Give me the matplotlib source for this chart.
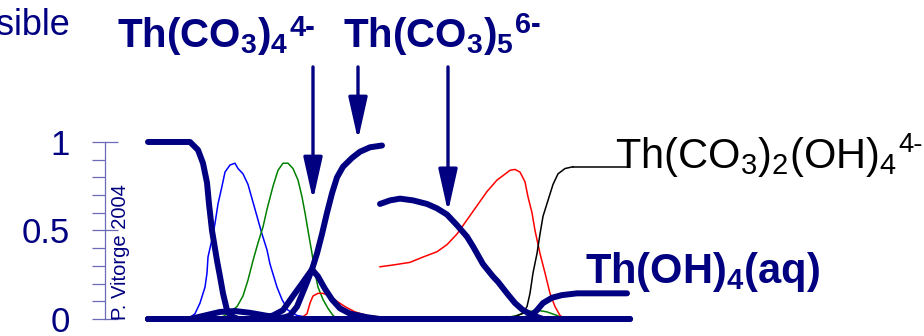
import numpy as np
import matplotlib
matplotlib.use("Agg")
import matplotlib.pyplot as plt
from matplotlib.patches import FancyArrowPatch

plt.rcParams['font.family'] = ['Liberation Sans', 'DejaVu Sans']
plt.rcParams['mathtext.fontset'] = 'custom'
plt.rcParams['mathtext.default'] = 'regular'
plt.rcParams['mathtext.rm'] = 'Liberation Sans'
plt.rcParams['mathtext.bf'] = 'Liberation Sans:bold'

NAVY = '#000080'
AXC = '#6b6bb8'

# ---- left part (carbonate complexes) ----
x_a = [0, 4.2, 5.0, 5.5, 5.9, 6.1, 6.4, 6.9, 7.2, 7.5, 7.9, 8.2, 9.0, 23.4]
y_a = [1.0, 1.0, 0.955, 0.88, 0.77, 0.65, 0.50, 0.33, 0.24, 0.145, 0.05, 0.02, 0.0, 0.0]

x_blue = [0, 4.0, 4.7, 5.2, 5.7, 5.9, 6.0, 6.4, 6.7, 7.0, 7.4, 7.7, 8.2, 8.7, 9.0, 9.5,
          10.0, 10.5, 10.9, 11.4, 11.9, 12.2, 12.9, 13.4, 14.0, 14.9, 15.9, 23.4]
y_blue = [0, 0.0, 0.03, 0.09, 0.18, 0.26, 0.35, 0.45, 0.54, 0.65, 0.75, 0.83, 0.87, 0.88, 0.85, 0.82,
          0.76, 0.66, 0.58, 0.48, 0.39, 0.31, 0.18, 0.11, 0.05, 0.02, 0.01, 0.0]

x_green = [0, 6.2, 7.4, 8.2, 8.9, 9.5, 10.0, 10.5, 11.0, 11.5, 11.9, 12.5, 13.0, 13.5, 14.0,
           14.5, 15.0, 15.4, 15.7, 16.0, 16.4, 16.7, 17.0, 17.5, 18.0, 18.5, 19.0, 23.4]
y_green = [0, 0.0, 0.01, 0.04, 0.07, 0.13, 0.22, 0.33, 0.43, 0.52, 0.62, 0.75, 0.84, 0.88, 0.88,
           0.85, 0.785, 0.69, 0.60, 0.50, 0.37, 0.26, 0.18, 0.11, 0.06, 0.02, 0.0, 0.0]

x_hump = [0, 4.2, 5.7, 7.2, 8.7, 10.2, 11.7, 13.2, 14.7, 23.4]
y_hump = [0, 0.0, 0.02, 0.04, 0.045, 0.035, 0.02, 0.005, 0.0, 0.0]

x_c4 = [0, 11.0, 12.5, 13.5, 14.5, 15.4, 16.4, 17.0, 17.7, 18.4, 19.2, 20.2, 21.9, 23.2]
y_c4 = [0, 0.0, 0.02, 0.05, 0.13, 0.20, 0.28, 0.24, 0.17, 0.11, 0.06, 0.03, 0.01, 0.0]

x_c5 = [0, 12.2, 13.7, 14.2, 14.9, 15.7, 16.4, 16.9, 17.4, 17.9, 18.4, 18.9, 19.5, 20.4, 21.2, 22.2, 23.4]
y_c5 = [0, 0.0, 0.01, 0.02, 0.07, 0.18, 0.28, 0.37, 0.48, 0.60, 0.71, 0.80, 0.86, 0.91, 0.945, 0.97, 0.98]

x_red1 = [0, 15.2, 15.9, 16.2, 16.5, 17.0, 17.5, 18.2, 18.9, 19.7, 20.7, 21.9, 23.2]
y_red1 = [0, 0.0, 0.03, 0.09, 0.13, 0.145, 0.145, 0.13, 0.10, 0.07, 0.04, 0.02, 0.01]

# ---- right part (hydroxo-carbonate) ----
x_c5b = [23.2, 24.2, 25.2, 26.5, 27.9, 28.9, 29.9, 30.9, 31.9, 32.5, 33.5, 34.5, 35.0, 35.9,
         36.7, 37.5, 38.5, 39.5, 48.2]
y_c5b = [0.65, 0.67, 0.68, 0.67, 0.65, 0.625, 0.59, 0.53, 0.465, 0.41, 0.31, 0.24, 0.21, 0.145,
         0.09, 0.05, 0.02, 0.0, 0.0]

x_red2 = [23.2, 24.5, 26.2, 27.5, 28.9, 29.9, 30.9, 31.9, 32.9, 33.9, 34.9, 35.5, 36.2, 36.7,
          37.2, 37.7, 38.0, 38.4, 38.7, 39.2, 39.7, 40.2, 40.7, 41.2, 41.7, 48.2]
y_red2 = [0.295, 0.305, 0.32, 0.35, 0.38, 0.42, 0.48, 0.56, 0.64, 0.72, 0.785, 0.81, 0.84, 0.845,
          0.83, 0.775, 0.69, 0.60, 0.50, 0.37, 0.26, 0.145, 0.07, 0.02, 0.0, 0.0]

x_black = [23.2, 34.9, 36.5, 37.4, 37.9, 38.2, 38.5, 38.9, 39.2, 39.5, 40.0, 40.5, 41.0, 41.7, 42.5]
y_black = [0, 0.0, 0.01, 0.03, 0.07, 0.145, 0.26, 0.37, 0.48, 0.58, 0.67, 0.76, 0.82, 0.85, 0.86]

x_green2 = [23.2, 35.2, 36.9, 37.9, 38.9, 39.9, 40.9, 41.7, 48.2]
y_green2 = [0, 0.0, 0.02, 0.04, 0.05, 0.04, 0.02, 0.0, 0.0]

x_oh4 = [23.2, 37.7, 38.2, 38.9, 39.5, 40.4, 41.4, 42.9, 47.9]
y_oh4 = [0, 0.0, 0.01, 0.05, 0.09, 0.12, 0.135, 0.145, 0.145]

x_zero2 = [23.2, 48.2]
y_zero2 = [0.0, 0.0]

y_ticks = [0, 0.5, 1]
y_tick_labels = ['0', '0.5', '1']

fig = plt.figure(figsize=(9.24, 3.36), dpi=100)
ax = fig.add_axes([0, 0, 1, 1])
ax.set_xlim(-14.8, 77.6)
ax.set_ylim(-0.096, 1.802)

thick = dict(color=NAVY, lw=4.3, solid_capstyle='round', solid_joinstyle='round')
thin = dict(lw=1.1, solid_joinstyle='round')

ax.plot(x_blue, y_blue, color='#0000ff', **thin)
ax.plot(x_green, y_green, color='#008000', **thin)
ax.plot(x_red1, y_red1, color='#ff0000', **thin)
ax.plot(x_green2, y_green2, color='#008000', **thin)
ax.plot(x_red2, y_red2, color='#ff0000', **thin)
ax.plot(x_black, y_black, color='black', **thin)
ax.plot([x_black[-1], 47.9], [y_black[-1], y_black[-1]], color='black', lw=1.1)

ax.plot(x_a, y_a, **thick)
ax.plot(x_hump, y_hump, **thick)
ax.plot(x_c4, y_c4, **thick)
ax.plot(x_c5, y_c5, **thick)
ax.plot(x_zero2, y_zero2, **thick)
ax.plot(x_c5b, y_c5b, **thick)
ax.plot(x_oh4, y_oh4, **thick)

# arrows
for xa, ytip in [(16.5, 0.672), (21.0, 1.011), (30.0, 0.605)]:
    arr = FancyArrowPatch((xa, 1.424), (xa, ytip),
                          arrowstyle='-|>,head_length=2.6,head_width=0.58',
                          mutation_scale=10, color=NAVY, lw=2.4,
                          shrinkA=0, shrinkB=0)
    ax.add_patch(arr)

# y axis
for s in ['top', 'right', 'bottom']:
    ax.spines[s].set_visible(False)
ax.spines['left'].set_position(('data', -4.3))
ax.spines['left'].set_bounds(0, 1)
ax.spines['left'].set_color(AXC)
ax.spines['left'].set_linewidth(0.9)
ax.set_xticks([])
ax.set_yticks(y_ticks)
ax.set_yticklabels(y_tick_labels)
ax.set_yticks(np.arange(0, 1.01, 0.1), minor=True)
ax.tick_params(axis='y', which='major', direction='inout', length=18.7, width=0.9,
               color=AXC, labelcolor=NAVY, labelsize=25, pad=15.8)
ax.tick_params(axis='y', which='minor', direction='out', length=9.4, width=0.9, color=AXC)


def formula(x, y, main, sup, size, color, weight, drop, ratio):
    t = ax.text(x, y, main, color=color, fontsize=size, fontweight=weight,
                ha='left', va='baseline')
    ax.annotate(sup, xy=(1, 1), xycoords=t, xytext=(1, -drop),
                textcoords='offset points', ha='left', va='top',
                color=color, fontsize=size * ratio, fontweight=weight)
    return t


# texts
ax.text(-7.8, 1.605, 'sible', color=NAVY, fontsize=26, ha='right', va='baseline')
formula(-3.1, 1.537, r'Th(CO$_3$)$_4$', '4-', 29, NAVY, 'bold', -1, 0.72)
formula(19.5, 1.537, r'Th(CO$_3$)$_5$', '6-', 29, NAVY, 'bold', -3, 0.72)
ax.text(43.7, 0.203, r'Th(OH)$_4$(aq)', color=NAVY, fontsize=30,
        fontweight='bold', ha='left', va='baseline')
formula(46.7, 0.853, r'Th(CO$_3$)$_2$(OH)$_4$', '4-', 30, 'black', 'normal', -2, 0.66)
ax.text(-2.8, -0.005, 'P. Vitorge 2004', color=NAVY, fontsize=14.5, rotation=90,
        ha='center', va='bottom')

fig.savefig('out.png', dpi=100)
